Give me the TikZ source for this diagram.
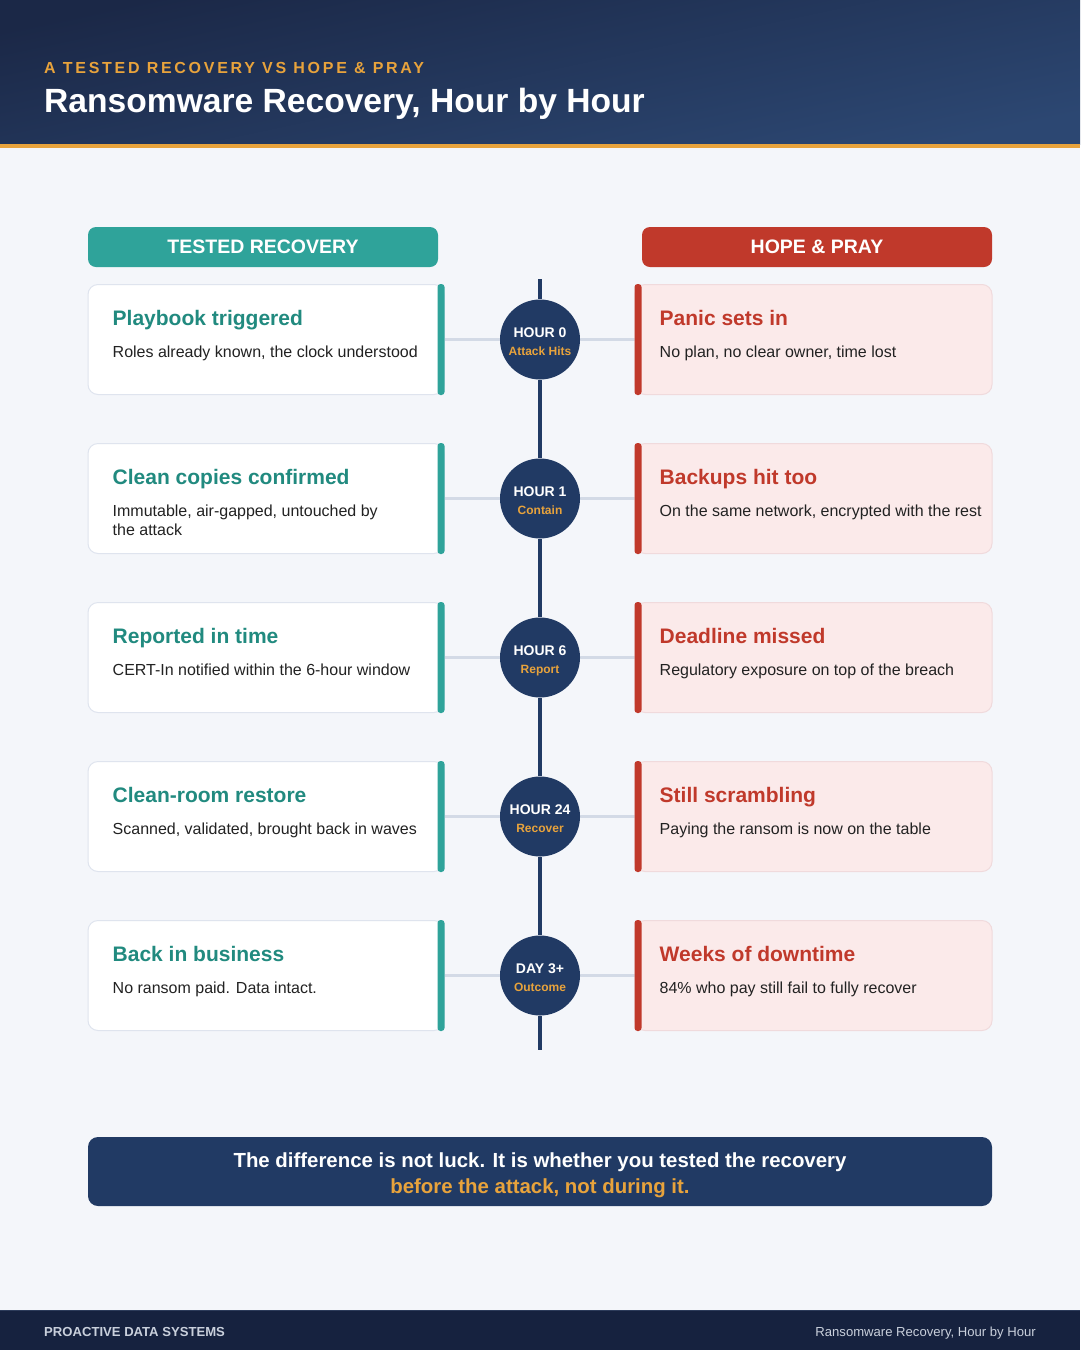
\documentclass[tikz,border=0pt]{standalone}
\usepackage{fontspec}
\setmainfont{Liberation Sans}
\newfontfamily\spacedfont[LetterSpace=17]{Liberation Sans}
\usetikzlibrary{calc}
\definecolor{bgc}{HTML}{F4F6FA}
\definecolor{hdrA}{HTML}{1B2847}
\definecolor{hdrB}{HTML}{2C4772}
\definecolor{orangec}{HTML}{E8A33C}
\definecolor{tealc}{HTML}{2FA39A}
\definecolor{tealt}{HTML}{218A7F}
\definecolor{redc}{HTML}{C0392B}
\definecolor{navyc}{HTML}{213A64}
\definecolor{pinkbg}{HTML}{FBEAEA}
\definecolor{pinkline}{HTML}{F0DADC}
\definecolor{cardline}{HTML}{DFE4EE}
\definecolor{connc}{HTML}{D3DAE6}
\definecolor{desct}{HTML}{222222}
\definecolor{footc}{HTML}{16223F}
\definecolor{footl}{HTML}{2C3B5A}
\definecolor{foott}{HTML}{C9D0DC}
\newcommand\myfs[2]{\fontsize{#1}{#2}\selectfont}
\pgfdeclarelayer{bglayer}
\pgfdeclarelayer{linelayer}
\pgfsetlayers{bglayer,linelayer,main}
\tikzset{
  card/.style={minimum width=356, minimum height=110, rounded corners=10, inner sep=0, line width=1},
  leftcard/.style={card, fill=white, draw=cardline},
  rightcard/.style={card, minimum width=357, fill=pinkbg, draw=pinkline},
  hourc/.style={circle, fill=navyc, minimum size=80, inner sep=0},
  hourtxt/.style={anchor=base, inner sep=0, text=white, font=\bfseries\myfs{14}{16}},
  hoursub/.style={anchor=base, inner sep=0, text=orangec, font=\bfseries\myfs{12}{14}},
  ctitle/.style={anchor=base west, inner sep=0, font=\bfseries\myfs{21}{25}},
  cdesc/.style={anchor=base west, inner sep=0, text=desct, font=\myfs{16}{19}},
  conn/.style={draw=connc, line width=3},
  timeline/.style={draw=navyc, line width=4.5},
  pill/.style={minimum width=350, minimum height=40, rounded corners=8, inner sep=0, text=white, font=\bfseries\myfs{19.5}{22}},
}
\newcommand\tlrow[8]{%
  \node[leftcard] (L#1) at (266,#2) {};
  \fill[tealc, rounded corners=3] ($(L#1.north east)+(-7,0)$) rectangle (L#1.south east);
  \node[rightcard] (R#1) at (813.5,#2) {};
  \fill[redc, rounded corners=3] (R#1.north west) rectangle ($(R#1.south west)+(7,0)$);
  \node[hourc] (C#1) at (540,#2) {};
  \node[hourtxt] (HT#1) at ($(C#1.center)+(0,-2.3)$) {#3};
  \node[hoursub] (HS#1) at ($(C#1.center)+(0,16)$) {#4};
  \node[ctitle, text=tealt] (LT#1) at ($(L#1.north west)+(25,41)$) {#5};
  \node[cdesc] (LD#1) at ($(L#1.north west)+(25,73)$) {\begin{tabular}[t]{@{}l@{}}#6\end{tabular}};
  \node[ctitle, text=redc] (RT#1) at ($(R#1.north west)+(25,41)$) {#7};
  \node[cdesc] (RD#1) at ($(R#1.north west)+(25,73)$) {\begin{tabular}[t]{@{}l@{}}#8\end{tabular}};
  \begin{pgfonlayer}{linelayer}
    \draw[conn] (L#1.east) -- (C#1.west);
    \draw[conn] (C#1.east) -- (R#1.west);
  \end{pgfonlayer}
}
\begin{document}
\begin{tikzpicture}[x=1pt,y=-1pt]
\useasboundingbox (0,0) rectangle (1080,1350);
\begin{pgfonlayer}{bglayer}
  \fill[bgc] (0,0) rectangle (1080,1350);
  \shade[top color=hdrA, bottom color=hdrB, shading angle=12] (0,0) rectangle (1080,144);
  \fill[orangec] (0,144) rectangle (1080,148);
  \fill[footc] (0,1310) rectangle (1080,1350);
  \draw[footl, line width=1.5] (0,1310.5) -- (1080,1310.5);
\end{pgfonlayer}
% header
\node[anchor=base west, inner sep=0, text=orangec, font=\spacedfont\bfseries\myfs{16}{18}] (sub) at (44,73.3) {A TESTED RECOVERY VS HOPE \& PRAY};
\node[anchor=base west, inner sep=0, text=white, font=\bfseries\myfs{33.6}{38}] (title) at (44,112.7) {Ransomware Recovery, Hour by Hour};
% column heads
\node[pill, fill=tealc] (PL) at (263,247) {TESTED RECOVERY};
\node[pill, fill=redc] (PR) at (817,247) {HOPE \& PRAY};
% timeline
\coordinate (tltop) at (540,279);
\coordinate (tlbot) at (540,1050);
\tlrow{0}{339.5}{HOUR 0}{Attack Hits}{Playbook triggered}{Roles already known, the clock understood}{Panic sets in}{No plan, no clear owner, time lost}
\tlrow{1}{498.5}{HOUR 1}{Contain}{Clean copies confirmed}{Immutable, air-gapped, untouched by\\the attack}{Backups hit too}{On the same network, encrypted with the rest}
\tlrow{2}{657.5}{HOUR 6}{Report}{Reported in time}{CERT-In notified within the 6-hour window}{Deadline missed}{Regulatory exposure on top of the breach}
\tlrow{3}{816.5}{HOUR 24}{Recover}{Clean-room restore}{Scanned, validated, brought back in waves}{Still scrambling}{Paying the ransom is now on the table}
\tlrow{4}{975.5}{DAY 3+}{Outcome}{Back in business}{No ransom paid. Data intact.}{Weeks of downtime}{84\% who pay still fail to fully recover}
\begin{pgfonlayer}{linelayer}
  \draw[timeline] (tltop) -- (C0) -- (C1) -- (C2) -- (C3) -- (C4) -- (tlbot);
\end{pgfonlayer}
% bottom banner
\node[fill=navyc, minimum width=904, minimum height=69, rounded corners=10, inner sep=0] (banner) at (540,1171.5) {};
\node[inner sep=0, align=center, text=white, font=\bfseries\myfs{20.4}{26}] (bannertext) at ($(banner.center)+(0,3.5)$) {The difference is not luck. It is whether you tested the recovery\\\textcolor{orangec}{before the attack, not during it.}};
% footer
\node[anchor=base west, inner sep=0, text=foott, font=\bfseries\myfs{13.1}{15}] (fl) at (44,1336.7) {PROACTIVE DATA SYSTEMS};
\node[anchor=base east, inner sep=0, text=foott, font=\myfs{13.1}{15}] (fr) at (1036,1336.7) {Ransomware Recovery, Hour by Hour};
\end{tikzpicture}
\end{document}
